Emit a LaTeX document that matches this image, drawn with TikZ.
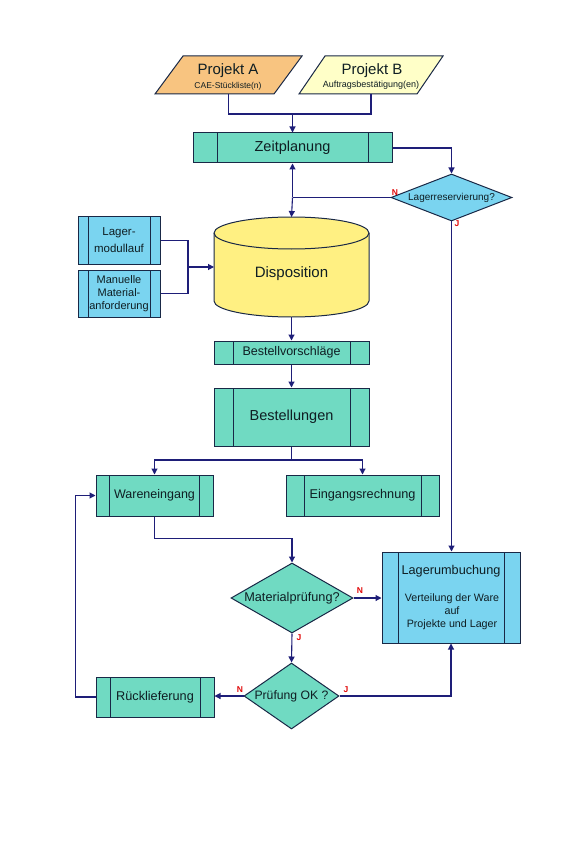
\documentclass[tikz,border=0pt]{standalone}
\usepackage{fontspec}
\setmainfont{Liberation Sans}
\usetikzlibrary{shapes.geometric,arrows.meta,calc}
\definecolor{tealf}{RGB}{112,218,194}
\definecolor{lblue}{RGB}{122,212,240}
\definecolor{cylf}{RGB}{255,240,130}
\definecolor{orA}{RGB}{248,196,128}
\definecolor{yeB}{RGB}{255,255,200}
\definecolor{navy}{RGB}{30,30,120}
\definecolor{bord}{RGB}{25,40,70}
\definecolor{labc}{RGB}{225,10,10}
\definecolor{txt}{RGB}{15,30,35}
\begin{document}
\begin{tikzpicture}[x=1pt,y=-1pt,
  every node/.style={text=txt},
  proc/.style={draw=bord, line width=1pt, rectangle, inner sep=0pt,
    path picture={\draw[bord,line width=1pt]
      ([xshift=#1]path picture bounding box.north west) -- ([xshift=#1]path picture bounding box.south west)
      ([xshift=-#1]path picture bounding box.north east) -- ([xshift=-#1]path picture bounding box.south east);}},
  dec/.style={diamond, draw=bord, line width=1pt, inner sep=0pt},
  conn/.style={navy, line width=1.1pt},
  arr/.style={conn, -{Triangle[length=6pt,width=6pt]}},
  yn/.style={text=labc, font=\bfseries\fontsize{8.5}{9}\selectfont, inner sep=0pt},
  blank/.style={inner sep=0pt, outer sep=0pt}]
\useasboundingbox (0,0) rectangle (583,842);
\fill[white] (0,0) rectangle (583,842);

% Projekt A / B
\node[blank, minimum width=147pt, minimum height=38pt] (pa) at (228.5,75) {};
\path[fill=orA, draw=bord, line width=1pt] (pa.south west) -- ([xshift=28pt]pa.north west) -- (pa.north east) -- ([xshift=-28pt]pa.south east) -- cycle;
\node[font=\fontsize{15}{15}\selectfont] at (228,71) {Projekt A};
\node[font=\fontsize{8.5}{9}\selectfont] at (228,86) {CAE-Stückliste(n)};

\node[blank, minimum width=144pt, minimum height=38pt] (pb) at (371,75) {};
\path[fill=yeB, draw=bord, line width=1pt] (pb.south west) -- ([xshift=26pt]pb.north west) -- (pb.north east) -- ([xshift=-26pt]pb.south east) -- cycle;
\node[font=\fontsize{15}{15}\selectfont] at (372,71) {Projekt B};
\node[font=\fontsize{9}{10}\selectfont] at (371,85) {Auftragsbestätigung(en)};

% Zeitplanung
\node[proc=24pt, fill=tealf, minimum width=199pt, minimum height=30pt, font=\fontsize{14.5}{16}\selectfont] (zeit) at (292.5,148) {Zeitplanung};

% Lagerreservierung
\node[dec, fill=lblue, minimum width=121pt, minimum height=47pt, aspect=2.57, font=\fontsize{10}{11}\selectfont] (lres) at (451.5,197.5) {Lagerreservierung?};

% Left boxes
\node[proc=10pt, fill=lblue, minimum width=82pt, minimum height=47pt, align=center, font=\fontsize{11.5}{17}\selectfont] (lm) at (119,240.5) {Lager-\\modullauf};
\node[proc=10pt, fill=lblue, minimum width=82pt, minimum height=47pt, align=center, font=\fontsize{11}{13}\selectfont] (mm) at (119,293.5) {Manuelle\\Material-\\anforderung};

% Disposition cylinder
\path[fill=cylf, draw=bord, line width=1pt] (214,233) -- (214,301) arc[start angle=180, end angle=0, x radius=77.5, y radius=16] -- (369,233) arc[start angle=0, end angle=-180, x radius=77.5, y radius=16] -- cycle;
\draw[bord, line width=1pt] (214,233) arc[start angle=180, end angle=0, x radius=77.5, y radius=16];
\node[blank, minimum width=155pt, minimum height=100pt] (disp) at (291.5,267) {};
\node[font=\fontsize{15}{18}\selectfont] at (291.5,274) {Disposition};

% Bestell boxes
\node[proc=19pt, fill=tealf, minimum width=155pt, minimum height=23pt, font=\fontsize{12.5}{14}\selectfont] (bv) at (291.5,352.5) {Bestellvorschläge};
\node[proc=19pt, fill=tealf, minimum width=155pt, minimum height=58pt, font=\fontsize{14.5}{16}\selectfont] (bst) at (291.5,417) {Bestellungen};

\node[proc=13.5pt, fill=tealf, minimum width=117pt, minimum height=41pt, font=\fontsize{12.5}{14}\selectfont] (we) at (154.5,495.5) {Wareneingang};
\node[proc=18pt, fill=tealf, minimum width=153pt, minimum height=41pt, font=\fontsize{12.7}{14}\selectfont] (er) at (362.5,495.5) {Eingangsrechnung};

% Lagerumbuchung
\node[proc=16pt, fill=lblue, minimum width=138pt, minimum height=91pt] (lagu) at (451,597.5) {};
\node[font=\fontsize{12.7}{14}\selectfont] at (451,571) {Lagerumbuchung};
\node[align=center, font=\fontsize{10.7}{13}\selectfont] at (452,612) {Verteilung der Ware\\auf\\Projekte und Lager};

% Diamonds
\node[dec, fill=tealf, minimum width=122pt, minimum height=70pt, aspect=1.74, font=\fontsize{12.7}{14}\selectfont] (mp) at (292,598) {Materialprüfung?};
\node[dec, fill=tealf, minimum width=95pt, minimum height=66pt, aspect=1.44, font=\fontsize{12.2}{14}\selectfont] (pok) at (291.5,696) {Prüfung OK ?};

\node[proc=14pt, fill=tealf, minimum width=118pt, minimum height=40pt, font=\fontsize{12.7}{14}\selectfont] (rl) at (155,697) {Rücklieferung};

% Connectors
\coordinate (jab) at (292.5,114);
\draw[conn] (pa.south) |- (jab);
\draw[conn] (pb.south) |- (jab);
\draw[arr] (jab) -- (zeit.north);

\draw[arr] (zeit.east) -| (lres.north);
\coordinate (jres) at (zeit.south |- lres.west);
\draw[conn] (lres.west) -- (jres);
\draw[arr] (jres) -- (zeit.south);
\draw[arr] (jres) -- (disp.north);
\draw[arr] (lres.south) -- (lres.south |- lagu.north);

\coordinate (jm) at (188,267);
\draw[conn] (lm.east) -| (jm);
\draw[conn] (mm.east) -| (jm);
\draw[arr] (jm) -- (disp.west);

\draw[arr] (disp.south) -- (bv.north);
\draw[arr] (bv.south) -- (bst.north);
\coordinate (jb) at (291.5,460);
\draw[conn] (bst.south) -- (jb);
\draw[arr] (jb) -| (we.north);
\draw[arr] (jb) -| (er.north);

\draw[arr] (we.south) -- ++(0,22) -| (mp.north);
\draw[arr] (mp.east) -- (lagu.west |- mp.east);
\draw[arr] (mp.south) -- (pok.north);
\draw[arr] (pok.west) -- (rl.east |- pok.west);
\draw[arr] (pok.east) -| (lagu.south);
\draw[arr] (rl.west) -- ++(-20,0) |- (we.west);

% Y/N labels
\node[yn] at (395,193) {N};
\node[yn] at (457,224) {J};
\node[yn] at (360,591) {N};
\node[yn] at (299,638) {J};
\node[yn] at (240,690) {N};
\node[yn] at (346,690) {J};
\end{tikzpicture}
\end{document}
